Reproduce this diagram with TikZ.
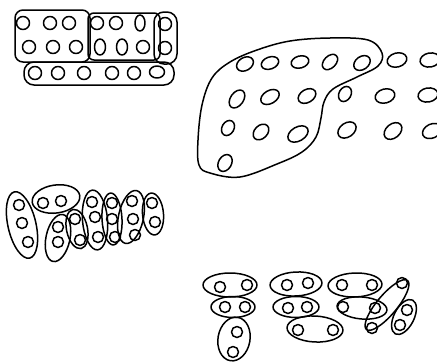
\documentclass[tikz,border=0pt]{standalone}
\begin{document}
\begin{tikzpicture}[x=1pt,y=-1pt,line width=1.5pt,line join=round,line cap=round]
\useasboundingbox (0,0) rectangle (437,362);
% ---------- top-left group ----------
\draw[rounded corners=8pt] (15,10) rectangle (90,62);
\draw[rounded corners=6pt] (88,13) rectangle (160,60);
\draw[rounded corners=10pt] (154,12) rectangle (177,64);
\draw[rounded corners=10pt] (24,62) rectangle (174,85);
\foreach \x/\y in {23/23,50/23,69/23,97/23,116/23,165/24,
                   29/47,53/47,76/47,143/47,165/48,
                   35/73,58/73,84/73,112/73,134/73}
  \draw (\x,\y) circle[radius=6.5pt];
\draw (140,23) ellipse[x radius=5pt,y radius=8pt];
\draw (100,47) ellipse[x radius=5.5pt,y radius=8pt];
\draw (122,47) ellipse[x radius=5.5pt,y radius=8pt];
\draw (157,72) ellipse[x radius=7.5pt,y radius=6pt];
% ---------- blob group ----------
\draw plot[smooth cycle,tension=0.6] coordinates {(257,50) (290,41) (330,38) (368,40) (382,53) (378,66) (357,77) (333,89) (324,102) (321,118) (316,137) (302,152) (277,164) (240,177) (210,173) (199,165) (198,140) (202,105) (212,78) (230,62)};
\foreach \x/\y/\r/\a/\b in {245/64/30/9/6.5, 270/63/20/9/6, 300/62/15/9/6, 330/62/45/9/6, 362/63/35/9/6.5, 397/60/15/10/7, 430/60/10/10/7,
  237/99/55/10/6.5, 270/97/30/10/6.5, 307/96/30/9.5/6.5, 345/94/60/8/6, 385/96/15/10/7, 428/95/10/10/7,
  228/128/60/8/6, 261/132/45/9/6.5, 298/134/30/11/7, 347/130/35/10/7, 393/131/40/10/7, 432/131/25/10/7,
  225/163/60/9/6.5}
  \draw[rotate around={\r:(\x,\y)}] (\x,\y) ellipse[x radius=\a pt,y radius=\b pt];
% ---------- bottom-left group ----------
\foreach \x/\y/\r/\a/\b in {22/225/13/14/34, 56/199/8/24/14, 58/238/-12/12/24, 77/229/12/10.5/20,
  95/220/5/12.5/30, 112/219/3/10/26, 131/217/-12/12.5/27, 153/214/5/10.5/21}
  \draw[rotate around={\r:(\x,\y)}] (\x,\y) ellipse[x radius=\a pt,y radius=\b pt];
\foreach \x/\y in {19/205,22/223,28/242, 43/203,61/201, 58/227,58/242, 75/219,80/240,
  92/202,95/217,98/237, 112/203,112/219,115/237, 132/201,133/219,135/235, 152/203,155/222}
  \draw (\x,\y) circle[radius=5.5pt];
% ---------- bottom-right group ----------
\foreach \x/\y/\r/\a/\b in {230/285/0/27/12, 233/307/0/22/10.5, 234/339/-10/16/22,
  296/284/3/26/12, 296/307/0/23/10.5, 315/329/-3/28/13,
  355/285/2/27/12, 362/308/-5/25/11, 387/305/50/32/10, 404/317/63/19/10}
  \draw[rotate around={\r:(\x,\y)}] (\x,\y) ellipse[x radius=\a pt,y radius=\b pt];
\foreach \x/\y in {220/287,247/285, 225/307,245/307, 237/332,233/352,
  287/285,308/283, 288/308,307/307, 298/330,333/330,
  342/285,372/285, 343/307,375/308, 372/328,402/283, 407/310,400/325}
  \draw (\x,\y) circle[radius=5.5pt];
\end{tikzpicture}
\end{document}
